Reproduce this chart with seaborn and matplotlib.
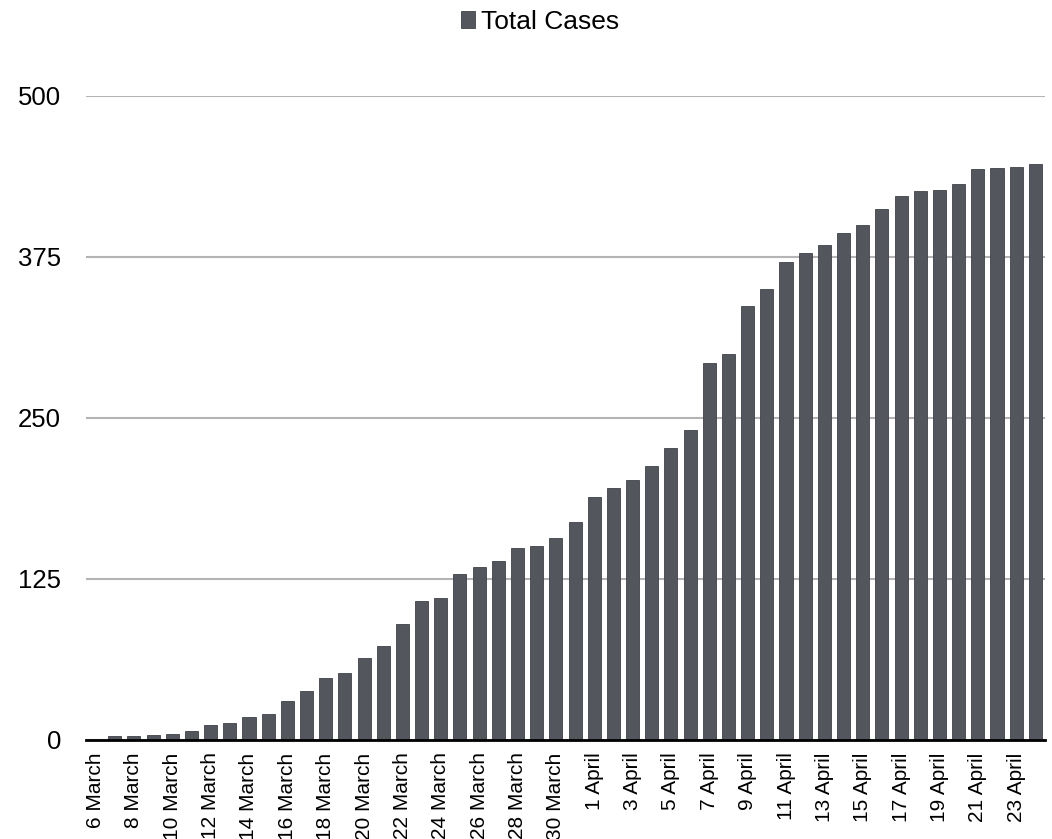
# -*- coding: utf-8 -*-
"""
Cumulative total cases per day, 6 March - 24 April
Single series bar chart with legend on top
"""

import pandas as pd
import seaborn as sns
import matplotlib.pyplot as plt

# -------------------------------------------------------
# STEP 1: Data
# -------------------------------------------------------

march_days = list(range(6, 32))
april_days = list(range(1, 25))

dates = [f"{d} March" for d in march_days] + [f"{d} April" for d in april_days]

total_cases = [
    0, 3, 3, 4, 5, 7, 12, 13, 18, 20,
    30, 38, 48, 52, 64, 73, 90, 108, 110, 129,
    134, 139, 149, 151, 157, 169, 189, 196, 202, 213,
    227, 241, 293, 300, 337, 350, 371, 378, 384, 394,
    400, 412, 422, 426, 427, 432, 443, 444, 445, 447,
]

y_ticks = [0, 125, 250, 375, 500]

df = pd.DataFrame({"Date": dates, "Total Cases": total_cases})

# -------------------------------------------------------
# STEP 2: Plot
# -------------------------------------------------------

sns.set_style("white")
plt.rcParams["font.family"] = ["Liberation Sans", "DejaVu Sans"]
plt.rcParams["text.color"] = "black"
plt.rcParams["xtick.color"] = "black"
plt.rcParams["ytick.color"] = "black"

fig = plt.figure(figsize=(10.52, 8.39), dpi=100)
ax = fig.add_axes([0.0817, 0.118, 0.9116, 0.7676])

sns.barplot(
    data=df,
    x="Date",
    y="Total Cases",
    color="#53565c",
    saturation=1,
    width=0.68,
    edgecolor="#3e4146",
    linewidth=0.6,
    label="Total Cases",
    ax=ax,
    zorder=3,
)

# --- y axis: fixed ticks with light grid ---
ax.set_ylim(0, 500)
ax.set_yticks(y_ticks)
ax.yaxis.grid(True, color="#b4b4b4", linewidth=1.5, zorder=0)
ax.tick_params(axis="y", length=0, pad=18, labelsize=18.5)

# --- x axis: every second date, rotated ---
ax.set_xticks(range(0, len(dates), 2))
ax.set_xticklabels(dates[::2], rotation=90, fontsize=15)
ax.tick_params(axis="x", length=0, pad=9)
ax.set_xlim(-0.5, len(dates) - 0.5)

ax.set_xlabel("")
ax.set_ylabel("")

for side in ["top", "right", "left"]:
    ax.spines[side].set_visible(False)
ax.spines["bottom"].set_color("black")
ax.spines["bottom"].set_linewidth(2)
ax.spines["bottom"].set_zorder(4)

# --- legend on top ---
if ax.legend_:
    ax.legend_.remove()
handles, labels = ax.get_legend_handles_labels()
fig.legend(
    handles, labels,
    loc="center",
    bbox_to_anchor=(0.513, 0.974),
    frameon=False,
    fontsize=19,
    handlelength=0.55,
    handleheight=0.6,
    handletextpad=0.2,
)

plt.savefig("out.png", dpi=100)
